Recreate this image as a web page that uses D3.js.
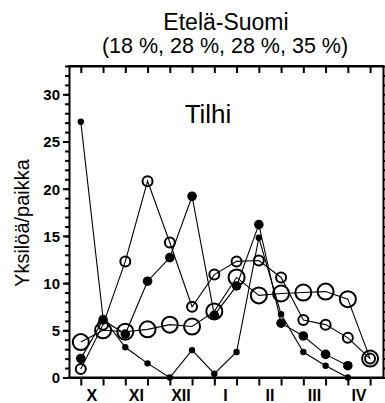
<!DOCTYPE html>
<html>
<head>
<meta charset="utf-8">
<script src="https://cdn.jsdelivr.net/npm/d3@7/dist/d3.min.js"></script>
<style>
  html, body { margin: 0; padding: 0; background: #fff; }
  svg { display: block; }
  text { font-family: "Liberation Sans", Arial, Helvetica, sans-serif; fill: #000; }
</style>
</head>
<body>
<svg id="chart" width="385" height="403"></svg>
<script>
// Half-month periods, October (X) to April (IV): two per month
const periods = d3.range(14);
const monthLabels = ["X", "XI", "XII", "I", "II", "III", "IV"];
const yTicksMajor = [0, 5, 10, 15, 20, 25, 30];

// Waxwing counts per site, one series per winter
const seriesA = [27.1, 6.3, 3.2, 1.5, 0, 2.9, 0.4, 2.7, 14.8, 6.7, 2.7, 1.25, 0];
const seriesB = [2.0, 6.1, 4.6, 10.2, 12.7, 19.2, 6.6, 9.7, 16.2, 5.75, 4.4, 2.45, 1.25];
const seriesC = [0.9, 5.6, 12.3, 20.8, 14.3, 7.5, 10.9, 12.3, 12.4, 10.6, 6.1, 5.6, 4.2, 2.0];
const seriesD = [3.75, 5.0, 4.85, 5.1, 5.6, 5.4, 7.0, 10.6, 8.7, 8.9, 9.0, 9.1, 8.3, 2.0];

const series = [
  { values: seriesD, r: 8,   filled: false },
  { values: seriesC, r: 5,   filled: false },
  { values: seriesB, r: 4.8, filled: true },
  { values: seriesA, r: 3.2, filled: true }
];

const L = 69, R = 383, T = 66, B = 377.5;
const svg = d3.select("#chart");

const x = d3.scaleLinear().domain([-0.53, 13.58]).range([L, R]);
const y = d3.scaleLinear().domain([0, 33]).range([B, T]);

// Titles
svg.append("text").attr("x", 226).attr("y", 29.5).attr("text-anchor", "middle")
  .style("font-size", "23px").text("Etelä-Suomi");
svg.append("text").attr("x", 225).attr("y", 53).attr("text-anchor", "middle")
  .style("font-size", "21.5px").text("(18 %, 28 %, 28 %, 35 %)");

// Y axis title
svg.append("text").attr("transform", "translate(29,223) rotate(-90)")
  .attr("text-anchor", "middle").style("font-size", "20px").text("Yksilöä/paikka");

// Species name inside plot
svg.append("text").attr("x", 208).attr("y", 123).attr("text-anchor", "middle")
  .style("font-size", "26px").text("Tilhi");

function styleAxis(g) {
  g.select(".domain").attr("stroke", "#000").attr("stroke-width", 2);
  g.selectAll(".tick line").attr("stroke", "#000").attr("stroke-width", 2);
}

// Left axis: minor ticks every unit, major ticks every 5 with labels
svg.append("g").attr("transform", `translate(${L},0)`)
  .call(d3.axisLeft(y).tickValues(d3.range(0, 34)).tickSize(4).tickSizeOuter(0).tickFormat(""))
  .call(styleAxis);
const leftMajor = svg.append("g").attr("transform", `translate(${L},0)`)
  .call(d3.axisLeft(y).tickValues(yTicksMajor).tickSize(6).tickSizeOuter(0).tickPadding(3))
  .call(styleAxis);
leftMajor.select(".domain").remove();
leftMajor.selectAll(".tick text").style("font-size", "15px").style("font-weight", "bold")
  .attr("dy", "0.36em");

// Right axis: outward minor ticks
svg.append("g").attr("transform", `translate(${R},0)`)
  .call(d3.axisRight(y).tickValues(d3.range(0, 34)).tickSize(5).tickSizeOuter(0).tickFormat(""))
  .call(styleAxis);

// Bottom axis: a tick for every half-month
svg.append("g").attr("transform", `translate(0,${B})`)
  .call(d3.axisBottom(x).tickValues(periods).tickSize(8).tickSizeOuter(0).tickFormat(""))
  .call(styleAxis);

// Top axis: ticks pointing into the plot
svg.append("g").attr("transform", `translate(0,${T})`)
  .call(d3.axisTop(x).tickValues(periods).tickSize(-7).tickSizeOuter(0).tickFormat(""))
  .call(styleAxis);

// Frame sides (domain paths span the full frame)
svg.append("g").selectAll("line").data([[L, T, R, T], [L, B, R, B]]).join("line")
  .attr("x1", d => d[0] - 1).attr("y1", d => d[1]).attr("x2", d => d[2] + 1).attr("y2", d => d[3])
  .attr("stroke", "#000").attr("stroke-width", 2);

// Month labels, centred between the two half-month ticks
svg.append("g").selectAll("text").data(monthLabels).join("text")
  .attr("x", (d, i) => x(2 * i + 0.5)).attr("y", 401).attr("text-anchor", "middle")
  .style("font-size", "16px").style("font-weight", "bold").text(d => d);

// Series lines
const line = d3.line().x((d, i) => x(i)).y(d => y(d));
svg.append("g").selectAll("path").data(series).join("path")
  .attr("d", s => line(s.values)).attr("fill", "none").attr("stroke", "#000").attr("stroke-width", 1.1);

// Markers
series.forEach(s => {
  svg.append("g").selectAll("circle").data(s.values).join("circle")
    .attr("cx", (d, i) => x(i)).attr("cy", d => y(d)).attr("r", s.r)
    .attr("fill", s.filled ? "#000" : "none")
    .attr("stroke", "#000").attr("stroke-width", s.filled ? 0 : 2);
});
</script>
</body>
</html>
